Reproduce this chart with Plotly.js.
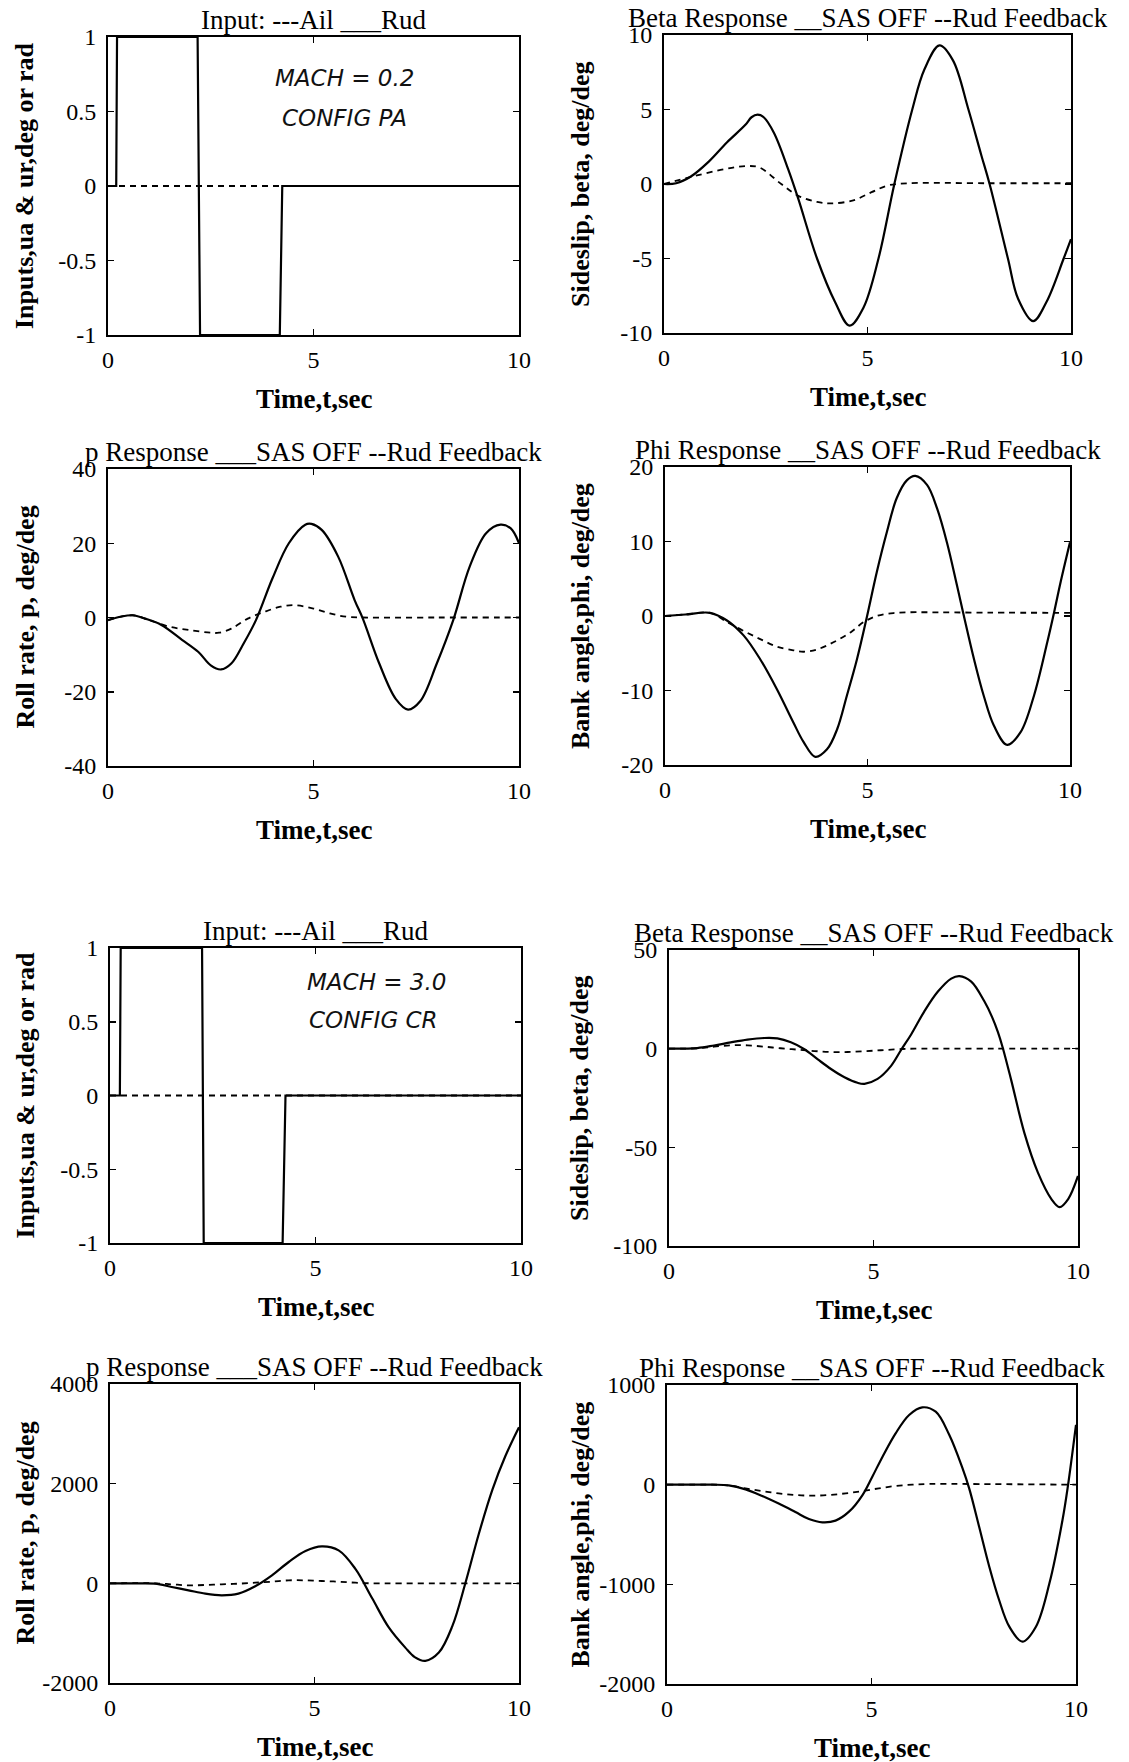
<!DOCTYPE html>
<html><head><meta charset="utf-8">
<script src="https://cdn.plot.ly/plotly-3.0.1.min.js"></script>
<style>html,body{margin:0;padding:0;background:#fff}#chart{width:1129px;height:1762px}</style>
</head><body><div id="chart"></div>
<script>
// ---------- DATA ----------
// Mach 0.2, config PA
const rudTime1 = [0, 0.2, 0.22, 2.18, 2.24, 4.18, 4.24, 10];
const rudInput1 = [0, 0, 1, 1, -1, -1, 0, 0];
const ailTime1 = [0, 10];
const ailInput1 = [0, 0];

const betaTimeOff1 = [0, 0.3, 0.66, 1.1, 1.55, 2.0, 2.15, 2.3, 2.45, 2.7, 3.05, 3.3, 3.76, 4.2, 4.56, 4.9, 5.27, 5.66, 6.1, 6.4, 6.77, 7.1, 7.48, 7.8, 8.0, 8.45, 8.7, 9.07, 9.4, 9.82, 10];
const betaSasOff1 = [0, 0.05, 0.5, 1.5, 2.8, 3.97, 4.48, 4.65, 4.48, 3.44, 1.0, -1.0, -5.0, -7.9, -9.5, -8.3, -5.0, 0, 5.0, 7.7, 9.3, 8.3, 5.0, 1.9, 0, -5.0, -7.7, -9.2, -7.9, -5.0, -3.7];
const betaTimeFb1 = [0, 0.7, 1.5, 2.0, 2.35, 2.88, 3.3, 3.76, 4.1, 4.65, 5.1, 5.5, 6.0, 8.0, 10];
const betaRudFb1 = [0, 0.5, 1.0, 1.2, 1.1, 0, -0.8, -1.2, -1.3, -1.1, -0.55, -0.1, 0.05, 0.05, 0.05];

const pTimeOff1 = [0, 0.3, 0.6, 0.9, 1.3, 1.8, 2.2, 2.5, 2.75, 3.0, 3.3, 3.6, 4.0, 4.4, 4.8, 4.95, 5.2, 5.6, 6.0, 6.2, 6.6, 7.0, 7.3, 7.6, 8.0, 8.4, 8.8, 9.2, 9.55, 9.8, 10];
const pSasOff1 = [-0.7, 0.2, 0.6, -0.3, -2, -6, -9.3, -12.9, -14, -12.4, -7, -0.7, 10.5, 20, 25, 25.2, 23.6, 16.4, 4.7, -0.3, -12.4, -21.9, -24.8, -22.5, -12.4, -0.7, 13.7, 22.7, 25, 24, 20];
const pTimeFb1 = [0, 0.6, 1.0, 1.5, 2.0, 2.5, 2.7, 3.0, 3.4, 3.8, 4.2, 4.56, 5.0, 5.4, 5.8, 6.2, 8.0, 10];
const pRudFb1 = [-0.7, 0.6, -0.7, -2.5, -3.4, -4.1, -4.1, -3.0, -0.3, 1.5, 2.9, 3.3, 2.4, 1.1, 0.2, 0, 0, 0];

const phiTimeOff1 = [0, 0.5, 1.11, 1.53, 1.94, 2.35, 2.76, 3.17, 3.42, 3.71, 4.0, 4.25, 4.49, 4.74, 4.99, 5.23, 5.48, 5.72, 5.97, 6.18, 6.47, 6.72, 6.96, 7.21, 7.38, 7.63, 7.87, 8.12, 8.45, 8.78, 9.11, 9.44, 9.6, 9.77, 10];
const phiSasOff1 = [0, 0.2, 0.43, -0.6, -2.6, -5.8, -9.8, -14.3, -16.9, -18.9, -17.9, -15.2, -10.7, -5.8, 0, 5.9, 11.3, 15.8, 18.2, 18.8, 17.6, 14.4, 9.9, 4.1, 0, -5.8, -10.7, -14.7, -17.3, -15.6, -10.7, -3.5, 0.3, 4.6, 9.9];
const phiTimeFb1 = [0, 0.5, 1.11, 1.53, 1.94, 2.35, 2.76, 3.17, 3.42, 3.75, 4.17, 4.58, 4.91, 5.23, 5.64, 6.06, 6.47, 8.0, 10];
const phiRudFb1 = [0, 0.2, 0.43, -0.8, -2.0, -3.1, -4.1, -4.6, -4.8, -4.5, -3.5, -2.2, -0.8, 0, 0.4, 0.5, 0.5, 0.45, 0.43];

// Mach 3.0, config CR
const rudTime2 = [0, 0.24, 0.26, 2.24, 2.28, 4.2, 4.27, 10];
const rudInput2 = [0, 0, 1, 1, -1, -1, 0, 0];
const ailTime2 = [0, 10];
const ailInput2 = [0, 0];

const betaTimeOff2 = [0, 0.69, 1.1, 1.51, 1.92, 2.33, 2.65, 2.98, 3.31, 3.63, 3.96, 4.29, 4.61, 4.78, 5.1, 5.43, 5.67, 5.92, 6.24, 6.57, 6.9, 7.1, 7.39, 7.71, 7.9, 8.04, 8.16, 8.37, 8.69, 9.02, 9.35, 9.55, 9.76, 10];
const betaSasOff2 = [0, 0.3, 1.6, 3.2, 4.6, 5.4, 5.2, 3.2, -0.3, -5.3, -10.3, -14.5, -17.3, -17.8, -15.3, -8.7, -0.8, 7.2, 18.8, 28.8, 35.5, 36.8, 34.0, 24.0, 16.0, 8.5, 0.5, -16.2, -42.8, -62.8, -76.2, -80.3, -76.2, -64.5];
const betaTimeFb2 = [0, 0.69, 1.1, 1.5, 1.92, 2.33, 2.73, 3.14, 3.55, 3.96, 4.37, 4.78, 5.18, 5.59, 6.0, 8.0, 10];
const betaRudFb2 = [0, 0.2, 1.0, 1.7, 1.7, 1.0, 0.2, -0.5, -1.2, -1.7, -1.7, -1.3, -0.8, -0.3, 0, 0, 0];

const pTimeOff2 = [0, 0.69, 1.1, 1.51, 1.92, 2.33, 2.73, 3.14, 3.55, 3.96, 4.37, 4.78, 5.18, 5.59, 6.0, 6.41, 6.82, 7.22, 7.45, 7.71, 8.04, 8.37, 8.69, 9.02, 9.35, 9.67, 10];
const pSasOff2 = [0, 0, -7, -73, -140, -207, -240, -207, -60, 160, 428, 648, 741, 661, 290, -300, -890, -1290, -1480, -1556, -1390, -860, 7, 1000, 1880, 2560, 3133];
const pTimeFb2 = [0, 1.1, 1.51, 1.92, 2.33, 2.73, 3.14, 3.55, 3.96, 4.37, 4.78, 5.18, 5.59, 6.0, 6.41, 8.0, 10];
const pRudFb2 = [0, 0, -20, -40, -33, -20, -7, 13, 33, 60, 60, 47, 33, 13, 0, 0, 0];

const phiTimeOff2 = [0, 1.1, 1.51, 1.92, 2.33, 2.73, 3.14, 3.47, 3.8, 4.12, 4.45, 4.78, 5.02, 5.27, 5.59, 5.92, 6.24, 6.57, 6.9, 7.22, 7.39, 7.63, 7.88, 8.12, 8.37, 8.69, 9.02, 9.35, 9.67, 9.8, 10];
const phiSasOff2 = [0, 0, -7, -47, -114, -190, -275, -345, -378, -361, -271, -104, 80, 281, 515, 699, 776, 732, 500, 170, -40, -420, -823, -1157, -1425, -1575, -1425, -990, -355, -20, 600];
const phiTimeFb2 = [0, 1.1, 1.51, 1.92, 2.33, 2.73, 3.14, 3.55, 3.96, 4.37, 4.78, 5.18, 5.59, 6.0, 6.41, 7.22, 10];
const phiRudFb2 = [0, 0, -7, -37, -64, -87, -104, -110, -104, -87, -64, -37, -13, 0, 7, 7, 0];

// Tick values / labels
const timeTicks = [0, 5, 10];
const timeTickText = ['0', '5', '10'];
const inputTicks = [-1, -0.5, 0, 0.5, 1];
const inputTickText = ['-1', '-0.5', '0', '0.5', '1'];
const beta1Ticks = [-10, -5, 0, 5, 10];
const beta1TickText = ['-10', '-5', '0', '5', '10'];
const p1Ticks = [-40, -20, 0, 20, 40];
const p1TickText = ['-40', '-20', '0', '20', '40'];
const phi1Ticks = [-20, -10, 0, 10, 20];
const phi1TickText = ['-20', '-10', '0', '10', '20'];
const beta2Ticks = [-100, -50, 0, 50];
const beta2TickText = ['-100', '-50', '0', '50'];
const p2Ticks = [-2000, 0, 2000, 4000];
const p2TickText = ['-2000', '0', '2000', '4000'];
const phi2Ticks = [-2000, -1000, 0, 1000];
const phi2TickText = ['-2000', '-1000', '0', '1000'];

const panelTitles = [
  'Input: ---Ail ___Rud',
  'Beta Response __SAS OFF --Rud Feedback',
  'p Response ___SAS OFF --Rud Feedback',
  'Phi Response __SAS OFF --Rud Feedback',
  'Input: ---Ail ___Rud',
  'Beta Response __SAS OFF --Rud Feedback',
  'p Response ___SAS OFF --Rud Feedback',
  'Phi Response __SAS OFF --Rud Feedback'
];
const yTitles = [
  'Inputs,ua & ur,deg or rad', 'Sideslip, beta, deg/deg',
  'Roll rate, p, deg/deg', 'Bank angle,phi, deg/deg',
  'Inputs,ua & ur,deg or rad', 'Sideslip, beta, deg/deg',
  'Roll rate, p, deg/deg', 'Bank angle,phi, deg/deg'
];
const xTitle = 'Time,t,sec';
const notes1 = ['MACH = 0.2', 'CONFIG PA'];
const notes2 = ['MACH = 3.0', 'CONFIG CR'];

// ---------- LAYOUT GEOMETRY (pixels) ----------
const W = 1129, H = 1762;
const boxes = [ // [left, right, top, bottom]
  [108, 519, 37, 335], [664, 1071, 35, 333],
  [108, 519, 469, 766], [665, 1070, 467, 765],
  [110, 521, 948, 1243], [669, 1078, 950, 1246],
  [110, 519, 1384, 1683], [667, 1076, 1385, 1684]
];
const yRanges = [[-1, 1], [-10, 10], [-40, 40], [-20, 20], [-1, 1], [-100, 50], [-2000, 4000], [-2000, 1000]];
const yTickSets = [[inputTicks, inputTickText], [beta1Ticks, beta1TickText], [p1Ticks, p1TickText], [phi1Ticks, phi1TickText],
  [inputTicks, inputTickText], [beta2Ticks, beta2TickText], [p2Ticks, p2TickText], [phi2Ticks, phi2TickText]];

const serif = 'Liberation Serif, Times New Roman, serif';
const INK = '#000';

function sfx(k) { return k === 1 ? '' : String(k); }
function line(k, t, v, dashed, smooth) {
  return {
    x: t, y: v, xaxis: 'x' + sfx(k), yaxis: 'y' + sfx(k), type: 'scatter', mode: 'lines',
    line: { color: INK, width: dashed ? 1.8 : 2.2, dash: dashed ? '6px,5px' : 'solid',
            shape: smooth ? 'spline' : 'linear', smoothing: 1 },
    hoverinfo: 'skip', showlegend: false, cliponaxis: true
  };
}

const traces = [
  line(1, ailTime1, ailInput1, true, false), line(1, rudTime1, rudInput1, false, false),
  line(2, betaTimeFb1, betaRudFb1, true, true), line(2, betaTimeOff1, betaSasOff1, false, true),
  line(3, pTimeFb1, pRudFb1, true, true), line(3, pTimeOff1, pSasOff1, false, true),
  line(4, phiTimeFb1, phiRudFb1, true, true), line(4, phiTimeOff1, phiSasOff1, false, true),
  line(5, ailTime2, ailInput2, true, false), line(5, rudTime2, rudInput2, false, false),
  line(6, betaTimeFb2, betaRudFb2, true, true), line(6, betaTimeOff2, betaSasOff2, false, true),
  line(7, pTimeFb2, pRudFb2, true, true), line(7, pTimeOff2, pSasOff2, false, true),
  line(8, phiTimeFb2, phiRudFb2, true, true), line(8, phiTimeOff2, phiSasOff2, false, true)
];

const layout = {
  width: W, height: H, margin: { l: 0, r: 0, t: 0, b: 0, pad: 0 },
  paper_bgcolor: '#fff', plot_bgcolor: '#fff', showlegend: false,
  font: { family: serif, color: INK, size: 24 },
  annotations: []
};

const axCommon = {
  showline: true, linecolor: INK, linewidth: 2, mirror: 'ticks',
  ticks: 'inside', ticklen: 6, tickwidth: 1.5, tickcolor: INK,
  showgrid: false, zeroline: false, fixedrange: true,
  tickfont: { family: serif, size: 24, color: INK }, automargin: false
};

boxes.forEach((b, i) => {
  const k = i + 1, s = sfx(k);
  const [l, r, t, bt] = b;
  const xd = [l / W, r / W], yd = [1 - bt / H, 1 - t / H];
  layout['xaxis' + s] = Object.assign({}, axCommon, {
    domain: xd, range: [0, 10], anchor: 'y' + s,
    tickmode: 'array', tickvals: timeTicks, ticktext: timeTickText, ticklabelstandoff: 2
  });
  layout['yaxis' + s] = Object.assign({}, axCommon, {
    domain: yd, range: yRanges[i], anchor: 'x' + s,
    tickmode: 'array', tickvals: yTickSets[i][0], ticktext: yTickSets[i][1], ticklabelstandoff: 5
  });
  const cx = (xd[0] + xd[1]) / 2, cy = (yd[0] + yd[1]) / 2;
  layout.annotations.push({ text: panelTitles[i], xref: 'paper', yref: 'paper', x: cx, y: yd[1],
    xanchor: 'center', yanchor: 'bottom', showarrow: false, font: { family: serif, size: 27, color: INK } });
  layout.annotations.push({ text: xTitle, xref: 'paper', yref: 'paper', x: cx, y: 1 - (bt + 64) / H,
    xanchor: 'center', yanchor: 'middle', showarrow: false, font: { family: serif, size: 27, color: INK, weight: 'bold' } });
  const yx = (i % 2 === 0 ? 25 : 580) / W;
  layout.annotations.push({ text: yTitles[i], xref: 'paper', yref: 'paper', x: yx, y: cy, textangle: -90,
    xanchor: 'center', yanchor: 'middle', showarrow: false, font: { family: serif, size: 26, color: INK, weight: 'bold' } });
});

function note(txt, px, py) {
  layout.annotations.push({ text: txt, xref: 'paper', yref: 'paper', x: px / W, y: 1 - py / H,
    xanchor: 'center', yanchor: 'middle', showarrow: false,
    font: { family: 'DejaVu Sans, sans-serif', size: 23, color: '#111', style: 'italic' } });
}
note(notes1[0], 344, 78); note(notes1[1], 344, 118);
note(notes2[0], 376, 982); note(notes2[1], 373, 1020);

Plotly.newPlot('chart', traces, layout, { staticPlot: true, displayModeBar: false });
</script>
</body></html>
